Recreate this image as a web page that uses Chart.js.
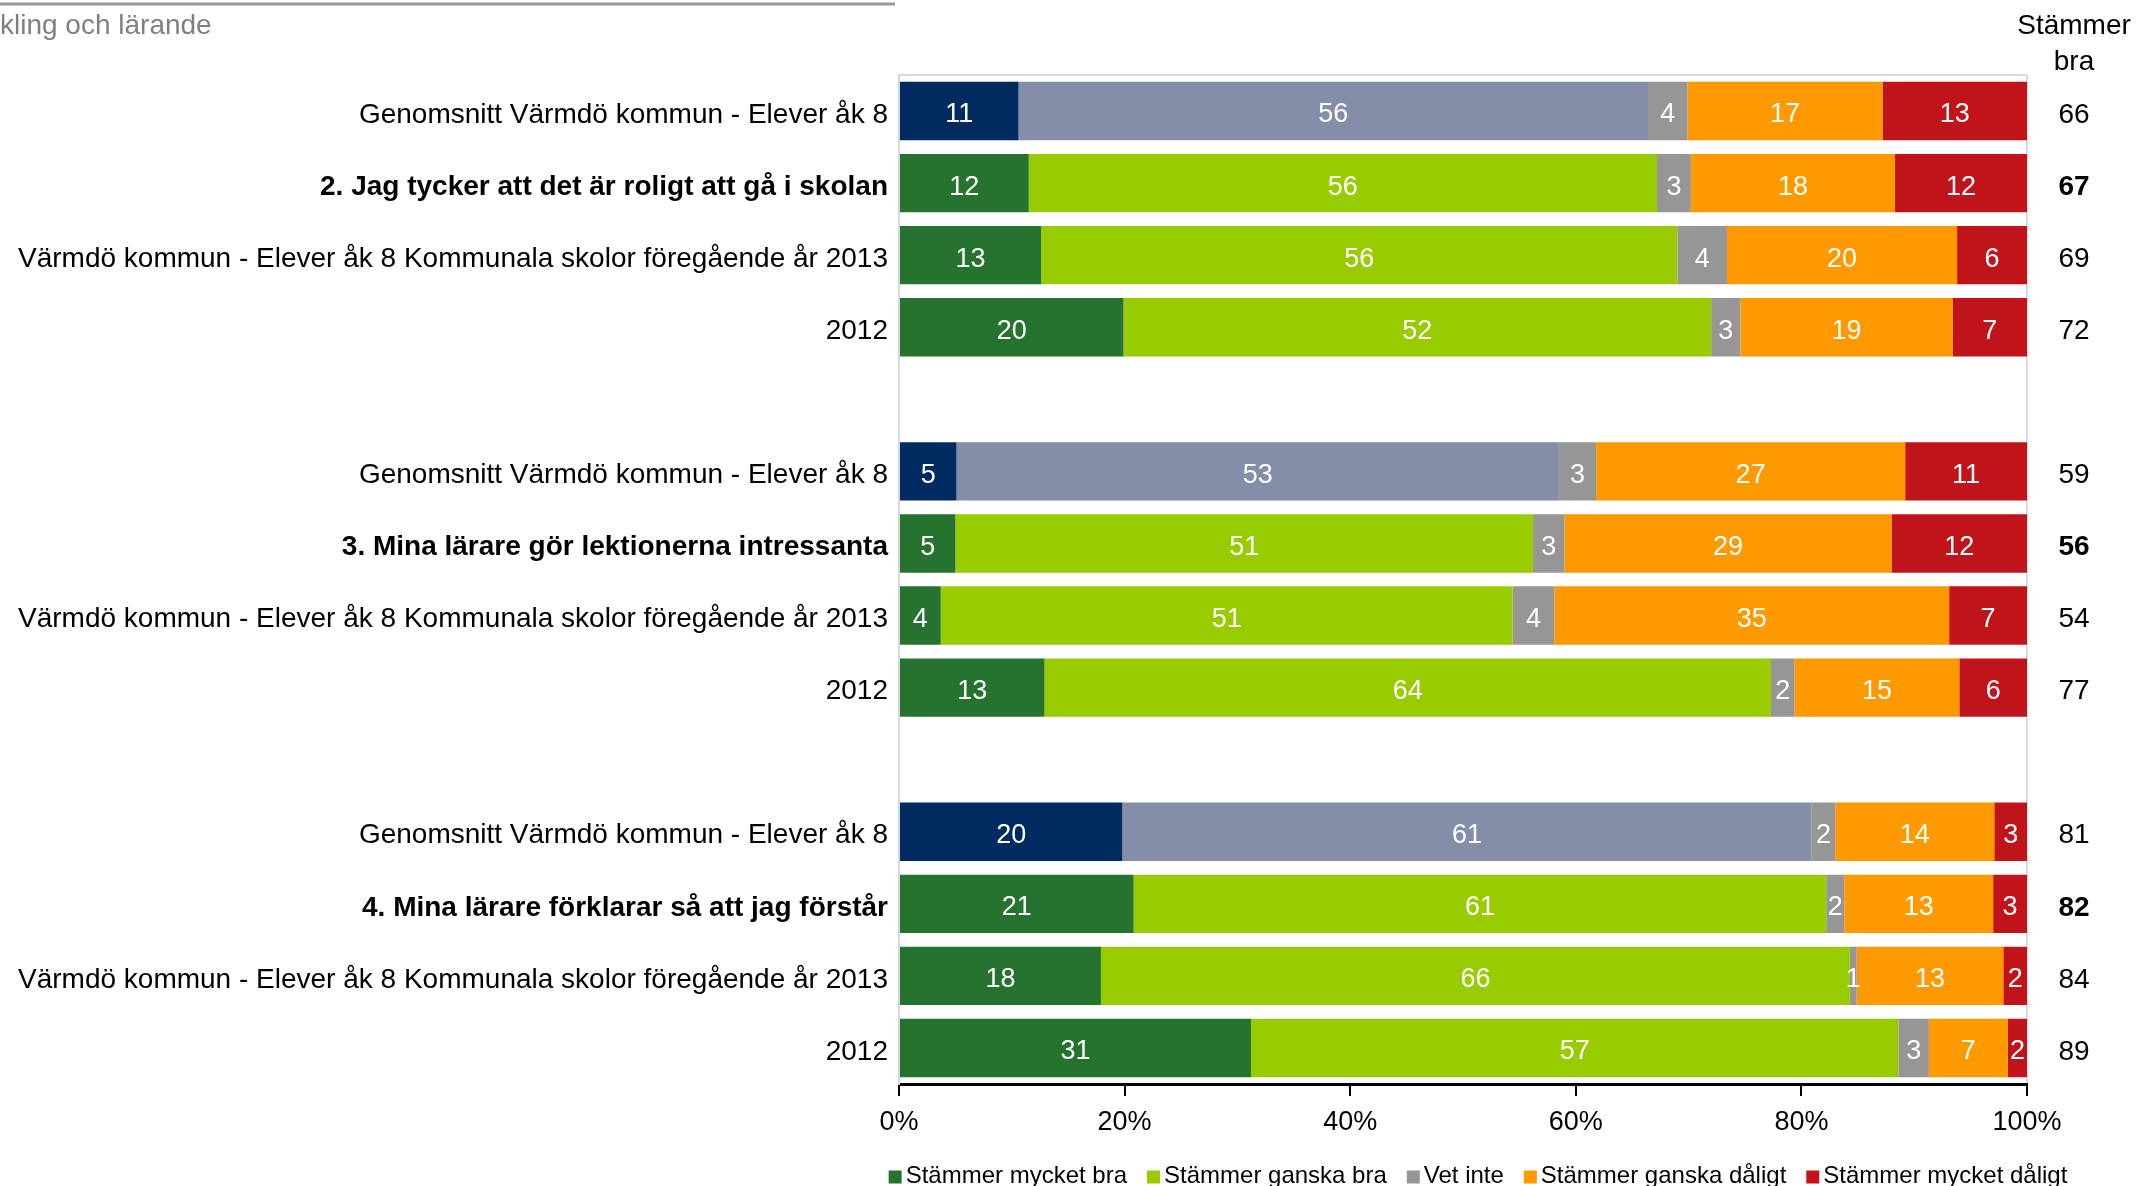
<!DOCTYPE html>
<html>
<head>
<meta charset="utf-8">
<script src="https://cdn.jsdelivr.net/npm/chart.js@4.4.1/dist/chart.umd.min.js"></script>
<style>
  html, body { margin: 0; padding: 0; background: #fff; }
  #wrap { width: 2136px; height: 1186px; position: relative; }
</style>
</head>
<body>
<div id="wrap"><canvas id="chart"></canvas></div>
<script>
const FONT = "'Liberation Sans', Arial, sans-serif";

const categories = [
  "Genomsnitt Värmdö kommun - Elever åk 8",
  "2. Jag tycker att det är roligt att gå i skolan",
  "Värmdö kommun - Elever åk 8 Kommunala skolor föregående år 2013",
  "2012",
  "",
  "Genomsnitt Värmdö kommun - Elever åk 8",
  "3. Mina lärare gör lektionerna intressanta",
  "Värmdö kommun - Elever åk 8 Kommunala skolor föregående år 2013",
  "2012",
  "",
  "Genomsnitt Värmdö kommun - Elever åk 8",
  "4. Mina lärare förklarar så att jag förstår",
  "Värmdö kommun - Elever åk 8 Kommunala skolor föregående år 2013",
  "2012"
];

// procent per svarsalternativ (etiketten visas avrundad)
const mycketBra    = [10.6, 11.5, 12.6, 19.9, null, 5.1, 5.0, 3.7, 12.9, null, 19.8, 20.8, 17.9, 31.2];
const ganskaBra    = [55.8, 55.7, 56.4, 52.1, null, 53.4, 51.2, 50.7, 64.4, null, 61.1, 61.4, 66.4, 57.4];
const vetInte      = [3.5, 3.0, 4.4, 2.6, null, 3.3, 2.8, 3.7, 2.1, null, 2.1, 1.6, 0.6, 2.7];
const ganskaDaligt = [17.3, 18.1, 20.4, 18.8, null, 27.4, 29.0, 35.0, 14.6, null, 14.1, 13.2, 13.0, 7.0];
const mycketDaligt = [12.8, 11.7, 6.2, 6.6, null, 10.8, 12.0, 6.9, 6.0, null, 2.9, 3.0, 2.1, 1.7];
const stammerBra   = [66, 67, 69, 72, null, 59, 56, 54, 77, null, 81, 82, 84, 89];
const xTicks = [0, 20, 40, 60, 80, 100];

const boldRows = [1, 6, 11];
const avgRows = [0, 5, 10];

const seriesNames = ["Stämmer mycket bra", "Stämmer ganska bra", "Vet inte", "Stämmer ganska dåligt", "Stämmer mycket dåligt"];
const seriesColors = ["#267330", "#99CC00", "#969696", "#FF9900", "#C0141A"];
const avgColors = ["#002B60", "#848EA8"];

function rowColors(base, avg) {
  return categories.map((c, i) => avgRows.includes(i) ? avg : base);
}

const datasets = [mycketBra, ganskaBra, vetInte, ganskaDaligt, mycketDaligt].map((d, i) => ({
  label: seriesNames[i],
  data: d,
  backgroundColor: i < 2 ? rowColors(seriesColors[i], avgColors[i]) : seriesColors[i],
  borderWidth: 0,
  barPercentage: 0.81,
  categoryPercentage: 1
}));

// etiketter i staplarna + kolumnen "Stämmer bra" + titel + legend
const extras = {
  id: "extras",
  beforeDraw(chart) {
    const ctx = chart.ctx, a = chart.chartArea;
    ctx.save();
    ctx.strokeStyle = "#D3D8E2";
    ctx.lineWidth = 2;
    ctx.beginPath();
    ctx.moveTo(a.left, a.bottom);
    ctx.lineTo(a.left, a.top);
    ctx.lineTo(a.right, a.top);
    ctx.lineTo(a.right, a.bottom);
    ctx.stroke();
    ctx.restore();
  },
  afterDatasetsDraw(chart) {
    const ctx = chart.ctx;
    ctx.save();
    ctx.font = "27px " + FONT;
    ctx.fillStyle = "#fff";
    ctx.textAlign = "center";
    ctx.textBaseline = "middle";
    chart.data.datasets.forEach((ds, i) => {
      chart.getDatasetMeta(i).data.forEach((bar, j) => {
        const v = ds.data[j];
        if (v == null) return;
        const p = bar.getProps(["x", "y", "base"], true);
        ctx.fillText(String(Math.round(v)), (p.x + p.base) / 2, p.y + 4);
      });
    });
    ctx.restore();
  },
  afterDraw(chart) {
    const ctx = chart.ctx, a = chart.chartArea, ys = chart.scales.y;
    const colX = a.right + 47;
    ctx.save();
    // titel (avklippt i originalet)
    ctx.strokeStyle = "#9A9A9A";
    ctx.lineWidth = 3;
    ctx.beginPath();
    ctx.moveTo(0, 4);
    ctx.lineTo(895, 4);
    ctx.stroke();
    ctx.fillStyle = "#808080";
    ctx.font = "28px " + FONT;
    ctx.textAlign = "left";
    ctx.textBaseline = "middle";
    ctx.fillText("kling och lärande", 0, 26);

    ctx.fillStyle = "#000";
    ctx.textAlign = "center";
    ctx.fillText("Stämmer", colX, a.top - 49);
    ctx.fillText("bra", colX, a.top - 13);
    stammerBra.forEach((v, j) => {
      if (v == null) return;
      ctx.font = (boldRows.includes(j) ? "bold " : "") + "28px " + FONT;
      ctx.fillText(String(v), colX, ys.getPixelForValue(j) + 4);
    });

    // legend
    ctx.font = "24px " + FONT;
    const box = 13, gapText = 4, gapItem = 20;
    const widths = seriesNames.map(t => ctx.measureText(t).width);
    const total = widths.reduce((s, w) => s + w + box + gapText, 0) + gapItem * (seriesNames.length - 1);
    let x = (a.left + a.right) / 2 + 15 - total / 2;
    const ly = 1176;
    ctx.textAlign = "left";
    seriesNames.forEach((t, i) => {
      ctx.fillStyle = seriesColors[i];
      ctx.fillRect(x, ly - box / 2 + 1, box, box);
      ctx.fillStyle = "#000";
      ctx.fillText(t, x + box + gapText, ly);
      x += box + gapText + widths[i] + gapItem;
    });
    ctx.restore();
  }
};

new Chart(document.getElementById("chart"), {
  type: "bar",
  data: { labels: categories, datasets },
  options: {
    indexAxis: "y",
    responsive: true,
    maintainAspectRatio: false,
    animation: false,
    layout: { padding: { top: 75, right: 109, left: 0, bottom: 0 } },
    plugins: { legend: { display: false }, tooltip: { enabled: false } },
    scales: {
      x: {
        stacked: true,
        min: 0,
        max: 100,
        afterBuildTicks: s => { s.ticks = xTicks.map(v => ({ value: v })); },
        ticks: {
          callback: v => v + "%",
          color: "#000",
          font: { size: 27, family: FONT },
          padding: 10,
          maxRotation: 0
        },
        grid: { drawOnChartArea: false, drawTicks: true, tickLength: 12, color: "#000", lineWidth: 2 },
        border: { color: "#000", width: 3 },
        afterFit: s => { s.height = 102; }
      },
      y: {
        stacked: true,
        ticks: {
          color: "#000",
          autoSkip: false,
          padding: 11,
          labelOffset: 4,
          font: c => ({ size: 28, family: FONT, weight: boldRows.includes(c.index) ? "bold" : "normal" })
        },
        grid: { display: false, drawTicks: false },
        border: { color: "#D3D8E2", width: 2 },
        afterFit: s => { s.width = 899; }
      }
    }
  },
  plugins: [extras]
});
</script>
</body>
</html>
